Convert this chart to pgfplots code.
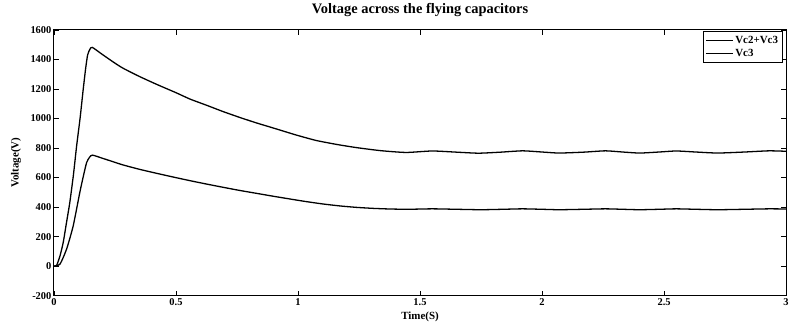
\documentclass[border=0pt]{standalone}
\usepackage{fontspec}
\setmainfont{Liberation Serif}
\usepackage{pgfplots}
\pgfplotsset{compat=1.18}
\begin{document}
\begin{tikzpicture}
\begin{axis}[
  name=ax,
  scale only axis,
  width=733bp, height=266bp,
  xmin=0, xmax=3, ymin=-200, ymax=1600,
  xtick={0,0.5,...,3}, ytick={-200,0,...,1600},
  xticklabels={0,0.5,1,1.5,2,2.5,3},
  yticklabel style={/pgf/number format/1000 sep={}},
  tick align=inside, tick pos=both,
  major tick length=5bp,
  /pgf/number format/assume math mode=true,
  tick label style={font=\bfseries\fontsize{10.5}{11}\selectfont},
  xticklabel style={yshift=1bp},
  yticklabel style={xshift=1bp},
  title={Voltage across the flying capacitors},
  title style={font=\bfseries\fontsize{14.5}{15}\selectfont, at={(axis description cs:0.5,1)}, anchor=center, yshift=14bp},
  xlabel={Time(S)}, ylabel={Voltage(V)},
  xlabel style={font=\bfseries\fontsize{11}{12}\selectfont, at={(axis description cs:0.5,0)}, anchor=center, yshift=-21bp},
  ylabel style={font=\bfseries\fontsize{11}{12}\selectfont, at={(axis description cs:0,0.5)}, anchor=center, rotate=0, yshift=38bp},
  axis line style={line width=0.9pt},
  every tick/.style={black, line width=0.8pt},
  legend style={at={(axis cs:2.985,1590)}, anchor=north east, font=\bfseries\fontsize{11}{12}\selectfont, draw=black, line width=0.8pt, inner sep=2pt, row sep=1pt},
  legend cell align=left,
  legend image code/.code={\draw[#1, line width=1pt] (0cm,0cm) -- (0.95cm,0cm);},
]
\addplot[black, line width=1.3pt, smooth, tension=0.35] coordinates {
(0,0) (0.011,5) (0.025,70) (0.038,160) (0.05,280) (0.065,431) (0.08,620) (0.093,815) (0.107,1000) (0.12,1198) (0.13,1340) (0.138,1430) (0.147,1468) (0.157,1482)
(0.2,1432) (0.25,1375) (0.284,1340) (0.35,1285) (0.42,1232) (0.5,1175) (0.557,1132) (0.625,1090) (0.693,1047) (0.76,1008) (0.83,970) (0.91,930) (0.993,888)
(1.075,851) (1.16,824) (1.239,803) (1.34,782) (1.443,770) (1.55,780) (1.65,772) (1.74,765) (1.83,772) (1.92,781) (2.0,773) (2.07,766) (2.17,772) (2.26,781) (2.33,773)
(2.4,766) (2.48,773) (2.55,780) (2.63,773) (2.72,766) (2.83,773) (2.93,781) (3.0,778)
};
\addlegendentry{Vc2+Vc3}
\addplot[black, line width=1.3pt, smooth, tension=0.35] coordinates {
(0,0) (0.025,14) (0.052,116) (0.079,273) (0.106,499) (0.122,620) (0.134,702) (0.146,738) (0.158,752)
(0.2,730) (0.25,703) (0.284,685) (0.35,656) (0.42,629) (0.49,603) (0.557,579) (0.625,556) (0.693,534) (0.76,513) (0.83,493) (0.9,473) (0.966,455) (1.03,438) (1.102,421)
(1.17,408) (1.239,398) (1.31,391) (1.375,387) (1.45,385) (1.55,388) (1.65,385) (1.75,382) (1.84,385) (1.92,388) (2.0,385) (2.07,382) (2.17,385) (2.26,388) (2.33,385)
(2.4,382) (2.48,385) (2.55,388) (2.63,385) (2.72,382) (2.83,385) (2.93,388) (3.0,387)
};
\addlegendentry{Vc3}
\end{axis}
\path ([shift={(-54bp,-31bp)}]ax.south west) rectangle ([shift={(5bp,29bp)}]ax.north east);
\end{tikzpicture}
\end{document}
